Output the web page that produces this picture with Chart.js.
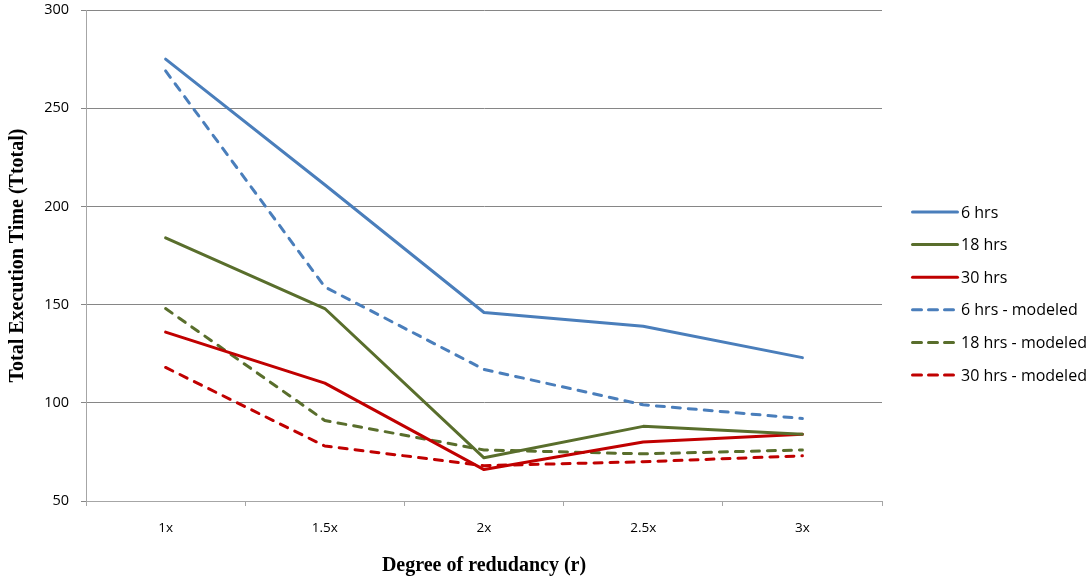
<!DOCTYPE html>
<html>
<head>
<meta charset="utf-8">
<title>Total Execution Time vs Degree of redudancy</title>
<script src="https://cdn.jsdelivr.net/npm/chart.js@4/dist/chart.umd.min.js"></script>
<style>
  html, body { margin: 0; padding: 0; background: #ffffff; }
  #wrap { width: 1090px; height: 579px; position: relative; }
</style>
</head>
<body>
<div id="wrap"><canvas id="chart" width="1090" height="579"></canvas></div>
<script>
// Degree of redundancy on the x axis
const categories = ['1x', '1.5x', '2x', '2.5x', '3x'];

// Measured total execution time
const hrs6  = [275, 211, 146, 139, 123];
const hrs18 = [184, 148, 72, 88, 84];
const hrs30 = [136, 110, 66, 80, 84];

// Modeled total execution time
const hrs6Modeled  = [269, 159, 117, 99, 92];
const hrs18Modeled = [148, 91, 76, 74, 76];
const hrs30Modeled = [118, 78, 68, 70, 73];

// Y axis range and tick step
const yMin = 50;
const yMax = 300;
const yStep = 50;

const BLUE = '#4A7EBB';
const GREEN = '#596E2C';
const RED = '#C00000';
const GRID = '#868686';
const AXIS = '#A6A6A6';
const DASH = [8, 8];

function series(label, data, color, dashed) {
  return {
    label: label,
    data: data,
    borderColor: color,
    backgroundColor: color,
    borderWidth: 3,
    borderDash: dashed ? DASH : [],
    borderCapStyle: 'round',
    borderJoinStyle: 'round',
    pointRadius: 0,
    pointHoverRadius: 0,
    tension: 0,
    fill: false
  };
}

// Legend on the right: a short line sample in each series' style, then its name
const sideLegend = {
  id: 'sideLegend',
  afterDraw(chart) {
    const ctx = chart.ctx;
    const x0 = chart.chartArea.right + 29;
    const lineLen = 48;
    const firstY = 212;
    const rowGap = 32.6;
    ctx.save();
    ctx.font = '16px "Open Sans", sans-serif';
    ctx.textBaseline = 'middle';
    ctx.textAlign = 'left';
    chart.data.datasets.forEach((ds, i) => {
      const y = firstY + i * rowGap;
      ctx.beginPath();
      ctx.strokeStyle = ds.borderColor;
      ctx.lineWidth = ds.borderWidth;
      ctx.lineCap = 'round';
      ctx.setLineDash(ds.borderDash.length ? [9, 7] : []);
      ctx.moveTo(x0 + 1.5, y);
      ctx.lineTo(x0 + lineLen - 1.5, y);
      ctx.stroke();
      ctx.setLineDash([]);
      ctx.fillStyle = '#000000';
      ctx.fillText(ds.label, x0 + lineLen + 2, y + 1);
    });
    ctx.restore();
  }
};

new Chart(document.getElementById('chart'), {
  type: 'line',
  data: {
    labels: categories,
    datasets: [
      series('6 hrs', hrs6, BLUE, false),
      series('18 hrs', hrs18, GREEN, false),
      series('30 hrs', hrs30, RED, false),
      series('6 hrs - modeled', hrs6Modeled, BLUE, true),
      series('18 hrs - modeled', hrs18Modeled, GREEN, true),
      series('30 hrs - modeled', hrs30Modeled, RED, true)
    ]
  },
  options: {
    responsive: false,
    animation: false,
    devicePixelRatio: 1,
    layout: { padding: { top: 10, right: 208, bottom: 0, left: 0 } },
    plugins: {
      legend: { display: false },
      tooltip: { enabled: false }
    },
    scales: {
      x: {
        offset: true,
        grid: {
          offset: true,
          drawOnChartArea: false,
          drawTicks: true,
          tickLength: 5,
          color: AXIS,
          lineWidth: 1
        },
        border: { display: true, color: AXIS, width: 1 },
        ticks: {
          color: '#000000',
          font: { family: '"Open Sans", sans-serif', size: 13.5 },
          padding: 14,
          maxRotation: 0
        },
        title: {
          display: true,
          text: 'Degree of redudancy (r)',
          color: '#000000',
          font: { family: '"Liberation Serif", serif', size: 20, weight: 'bold' },
          padding: { top: 0, bottom: 1 }
        },
        afterFit(axis) { axis.height = 78; }
      },
      y: {
        min: yMin,
        max: yMax,
        ticks: {
          stepSize: yStep,
          color: '#000000',
          font: { family: '"Open Sans", sans-serif', size: 14.5 },
          padding: 12
        },
        grid: {
          color: GRID,
          lineWidth: 1,
          tickLength: 5,
          drawTicks: true
        },
        border: { display: true, color: AXIS, width: 1 },
        title: {
          display: true,
          text: 'Total Execution Time (Ttotal)',
          color: '#000000',
          font: { family: '"Liberation Serif", serif', size: 20, weight: 'bold' },
          padding: { top: 6, bottom: 0 }
        },
        afterFit(axis) {
          axis.width = 86;
          // keep only the room the top label needs, not the label gap as well
          axis.paddingTop = 0;
          axis.paddingBottom = 0;
        }
      }
    }
  },
  plugins: [sideLegend]
});
</script>
</body>
</html>
